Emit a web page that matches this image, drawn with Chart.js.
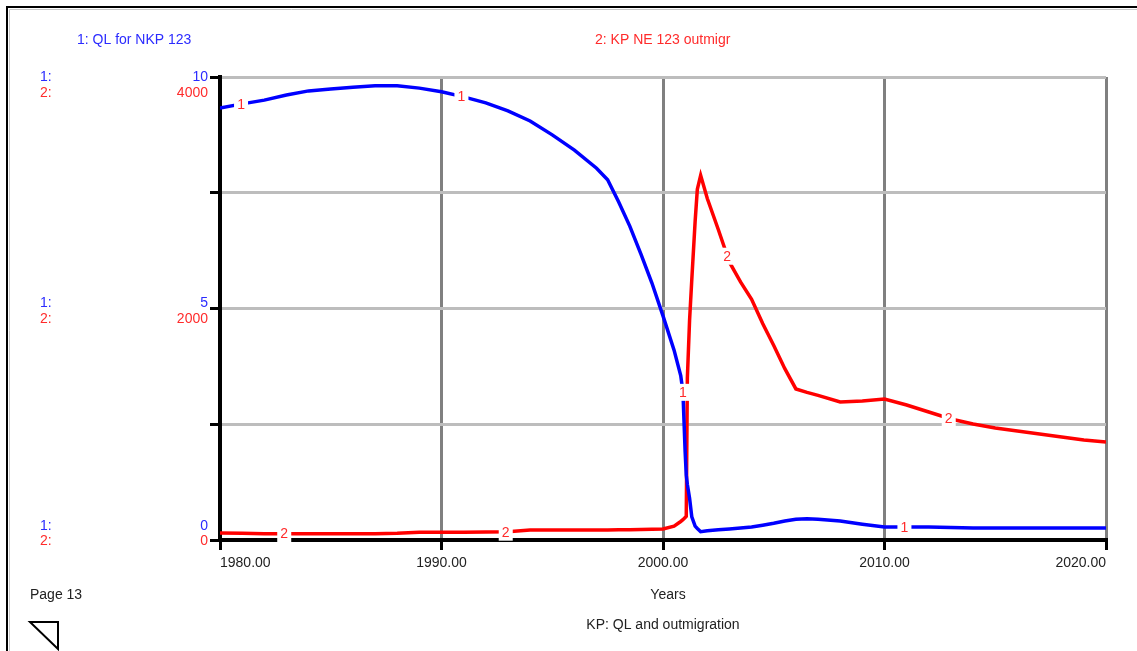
<!DOCTYPE html>
<html>
<head>
<meta charset="utf-8">
<script src="https://cdn.jsdelivr.net/npm/chart.js@4"></script>
<style>
  html, body { margin: 0; padding: 0; background: #fff; }
  #wrap { width: 1137px; height: 651px; position: relative; }
</style>
</head>
<body>
<div id="wrap"><canvas id="chart" width="1137" height="651"></canvas></div>
<script>
// time axis (years), denser around the 2001 jump
const years = [1980, 1981, 1982, 1983, 1984, 1985, 1986, 1987, 1988, 1989,
  1990, 1991, 1992, 1993, 1994, 1995, 1996, 1997, 1997.5, 1998,
  1998.5, 1999, 1999.5, 2000, 2000.5, 2000.8, 2000.9, 2001, 2001.05, 2001.1,
  2001.2, 2001.3, 2001.45, 2001.55, 2001.7, 2002, 2002.5, 2003, 2003.5, 2004,
  2004.5, 2005, 2005.5, 2006, 2006.5, 2007, 2008, 2009, 2010, 2011,
  2012, 2013, 2014, 2015, 2016, 2017, 2018, 2019, 2020];

// 1: QL for NKP 123 (scale 0-10)
const qlValues = [9.33, 9.42, 9.5, 9.61, 9.7, 9.74, 9.78, 9.81, 9.81, 9.76,
  9.68, 9.57, 9.44, 9.27, 9.05, 8.75, 8.42, 8.03, 7.78, 7.3,
  6.78, 6.18, 5.55, 4.84, 4.1, 3.55, 3.2, 1.9, 1.4, 1.2,
  0.9, 0.5, 0.3, 0.25, 0.18, 0.2, 0.22, 0.24, 0.26, 0.28,
  0.32, 0.36, 0.41, 0.45, 0.46, 0.45, 0.41, 0.34, 0.28, 0.28,
  0.28, 0.27, 0.26, 0.26, 0.26, 0.26, 0.26, 0.26, 0.26];

// 2: KP NE 123 outmigr (scale 0-4000)
const outmigValues = [60, 58, 55, 55, 55, 55, 55, 55, 58, 68,
  68, 68, 70, 72, 86, 86, 86, 86, 87, 88,
  88, 90, 92, 95, 120, 160, 175, 195, 205, 1400,
  1900, 2250, 2750, 3030, 3150, 2950, 2680, 2400, 2230, 2080,
  1870, 1680, 1480, 1305, 1275, 1250, 1192, 1200, 1218, 1166,
  1106, 1045, 1002, 968, 942, 916, 890, 864, 847];

const xTicks = [1980, 1990, 2000, 2010, 2020];
const labelledTicks = [0, 5, 10];
const qlAxisLabels = ['0', '5', '10'];
const outmigAxisLabels = ['0', '2000', '4000'];
const label1Years = [1980.95, 1990.9, 2000.9, 2010.9];
const label2Years = [1982.9, 1992.9, 2002.9, 2012.9];

const FONT = '"Liberation Sans", Arial, sans-serif';
const BLUE_TXT = '#2b2bff';
const RED_TXT = '#ff2b2b';

function valueAt(xs, ys, x) {
  for (let i = 1; i < xs.length; i++) {
    if (x <= xs[i]) {
      const t = (x - xs[i - 1]) / (xs[i] - xs[i - 1]);
      return ys[i - 1] + t * (ys[i] - ys[i - 1]);
    }
  }
  return ys[ys.length - 1];
}

function text(ctx, str, x, y, color, align) {
  ctx.fillStyle = color;
  ctx.textAlign = align || 'left';
  ctx.fillText(str, x, y);
}

// little numbered tags sitting on the curves
const lineTags = {
  id: 'lineTags',
  afterDatasetsDraw(chart) {
    const ctx = chart.ctx;
    const xs = chart.scales.x;
    ctx.save();
    ctx.font = '14px ' + FONT;
    ctx.textBaseline = 'middle';
    const put = (tag, yrs, vals, scale) => {
      yrs.forEach((yr) => {
        const px = xs.getPixelForValue(yr);
        const py = scale.getPixelForValue(valueAt(years, vals, yr));
        ctx.fillStyle = '#fff';
        ctx.fillRect(px - 7, py - 8, 14, 17);
        text(ctx, tag, px, py + 1, RED_TXT, 'center');
      });
    };
    put('1', label1Years, qlValues, chart.scales.y);
    put('2', label2Years, outmigValues, chart.scales.y2);
    ctx.restore();
  }
};

// page frame, titles, axis value labels
const pageDecor = {
  id: 'pageDecor',
  afterDraw(chart) {
    const ctx = chart.ctx;
    const ys = chart.scales.y;
    const area = chart.chartArea;
    ctx.save();

    ctx.strokeStyle = '#000';
    ctx.lineWidth = 2;
    ctx.beginPath();
    ctx.moveTo(7, 651); ctx.lineTo(7, 7); ctx.lineTo(1137, 7);
    ctx.stroke();
    ctx.strokeStyle = '#c8c8c8';
    ctx.lineWidth = 1;
    ctx.beginPath();
    ctx.moveTo(9.5, 651); ctx.lineTo(9.5, 9.5); ctx.lineTo(1137, 9.5);
    ctx.stroke();

    ctx.font = '14px ' + FONT;
    ctx.textBaseline = 'middle';
    text(ctx, '1: QL for NKP 123', 77, 40, BLUE_TXT);
    text(ctx, '2: KP NE 123 outmigr', 595, 40, RED_TXT);

    const offs = [[-14, 1], [-5, 11], [0, 16]];
    labelledTicks.forEach((v, i) => {
      const py = ys.getPixelForValue(v);
      text(ctx, '1:', 40, py + offs[i][0], BLUE_TXT);
      text(ctx, '2:', 40, py + offs[i][1], RED_TXT);
      text(ctx, qlAxisLabels[i], area.left - 12, py + offs[i][0], BLUE_TXT, 'right');
      text(ctx, outmigAxisLabels[i], area.left - 12, py + offs[i][1], RED_TXT, 'right');
    });

    const cx = (area.left + area.right) / 2;
    text(ctx, 'Page 13', 30, 595, '#222');
    text(ctx, 'Years', cx + 5, 595, '#222', 'center');
    text(ctx, 'KP: QL and outmigration', cx, 625, '#222', 'center');

    ctx.strokeStyle = '#000';
    ctx.lineWidth = 2;
    ctx.beginPath();
    ctx.moveTo(30, 622); ctx.lineTo(58, 622); ctx.lineTo(58, 649); ctx.closePath();
    ctx.stroke();
    ctx.restore();
  }
};

new Chart(document.getElementById('chart'), {
  type: 'line',
  data: {
    labels: years,
    datasets: [
      {
        label: 'QL for NKP 123',
        data: years.map((yr, i) => ({ x: yr, y: qlValues[i] })),
        borderColor: '#0000ff',
        borderWidth: 3.5,
        pointRadius: 0,
        tension: 0,
        yAxisID: 'y'
      },
      {
        label: 'KP NE 123 outmigr',
        data: years.map((yr, i) => ({ x: yr, y: outmigValues[i] })),
        borderColor: '#ff0000',
        borderWidth: 3.5,
        pointRadius: 0,
        tension: 0,
        yAxisID: 'y2'
      }
    ]
  },
  options: {
    responsive: false,
    animation: false,
    devicePixelRatio: 1,
    layout: { padding: { left: 190, right: 31, top: 77, bottom: 0 } },
    plugins: { legend: { display: false }, tooltip: { enabled: false } },
    scales: {
      x: {
        type: 'linear',
        min: xTicks[0],
        max: xTicks[xTicks.length - 1],
        afterBuildTicks: (s) => { s.ticks = xTicks.map((v) => ({ value: v })); },
        afterFit: (s) => { s.height = 111; },
        grid: { color: '#808080', lineWidth: 3, tickColor: '#000', tickLength: 10 },
        border: { color: '#000', width: 4 },
        ticks: {
          callback: (v) => v.toFixed(2),
          color: '#222',
          font: { family: FONT, size: 14 },
          padding: 5,
          align: 'inner',
          maxRotation: 0,
          autoSkip: false
        }
      },
      y: {
        min: 0,
        max: 10,
        ticks: { stepSize: 2.5, display: false },
        afterFit: (s) => { s.width = 30; },
        grid: { color: '#bdbdbd', lineWidth: 3, tickColor: '#000', tickLength: 10 },
        border: { color: '#000', width: 4 }
      },
      y2: {
        min: 0,
        max: 4000,
        display: false
      }
    }
  },
  plugins: [lineTags, pageDecor]
});
</script>
</body>
</html>
